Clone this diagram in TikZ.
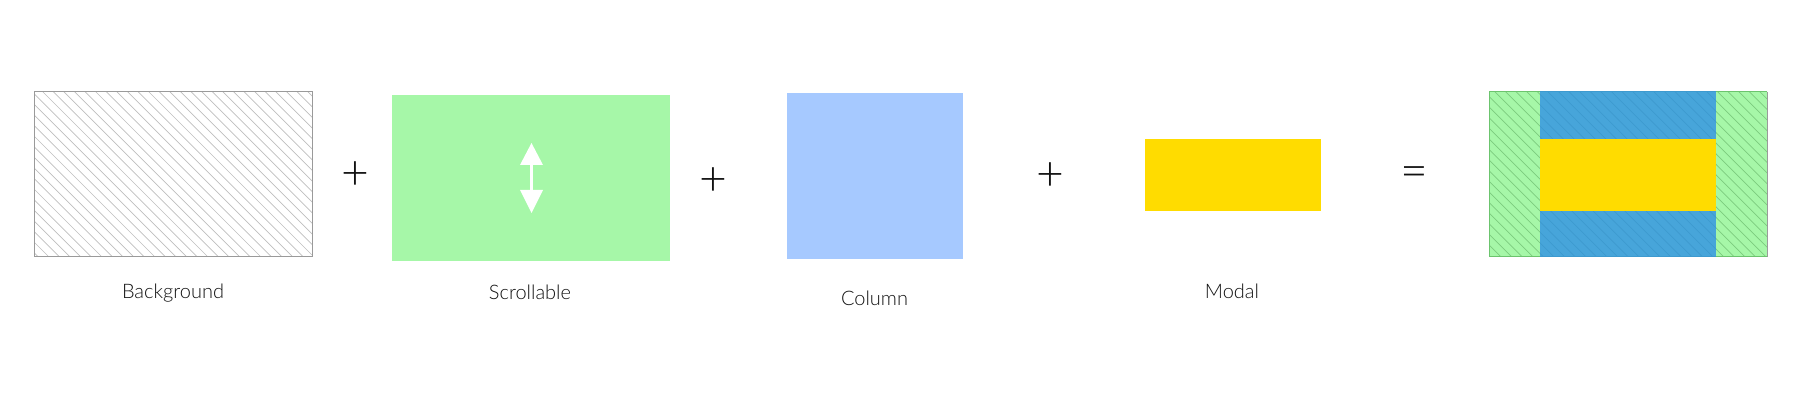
\documentclass[tikz,border=0pt]{standalone}
\usepackage{fontspec}
\setmainfont{Lato}[UprightFont=* Light]
\definecolor{bgborder}{HTML}{9A9A9A}
\definecolor{bghatch}{HTML}{BEBEBE}
\definecolor{scrollgreen}{HTML}{A6F7A8}
\definecolor{colblue}{HTML}{A6C9FF}
\definecolor{modalyellow}{HTML}{FFDC00}
\definecolor{finblue}{HTML}{47A5DA}
\definecolor{finbluehatch}{HTML}{3E9ACF}
\definecolor{fingreenhatch}{HTML}{7CCB7E}
\definecolor{fingreenborder}{HTML}{6CC46E}
\definecolor{labeltext}{HTML}{111111}
\tikzset{
  box/.style={rectangle, inner sep=0pt, outer sep=0pt, draw=none},
  lbl/.style={anchor=base, inner sep=0pt, text=labeltext, font=\fontsize{20}{24}\selectfont},
  op/.style={inner sep=0pt, text=labeltext, font=\fontsize{48}{54}\selectfont},
}
\newcommand{\myhatch}[3]{% rect corners, color
  \begin{scope}
    \clip (#1) rectangle (#2);
    \foreach \c in {-420,-409.4,...,1802} {
      \draw[#3, line width=0.7pt] (\c,0) -- ++(420,420);
    }
  \end{scope}}
\begin{document}
\begin{tikzpicture}[x=1pt,y=-1pt]
\useasboundingbox (0,0) rectangle (1802,403);
% Background
\node[box, minimum width=278, minimum height=165, anchor=north west] (bg) at (34,92) {};
\myhatch{34,92}{312,257}{bghatch}
\draw[bgborder, line width=1pt] (bg.north west) rectangle (bg.south east);
\node[lbl] (bglbl) at (173,298.3) {Background};
% plus 1
\node[op] (p1) at (355,176) {+};
% Scrollable
\node[box, fill=scrollgreen, minimum width=278, minimum height=166, anchor=north west] (scr) at (392,95) {};
\fill[white] (531.5,143) -- (543,165) -- (520,165) -- cycle;
\fill[white] (529.8,164) rectangle (533.2,191);
\fill[white] (520,190) -- (543,190) -- (531.5,213) -- cycle;
\node[lbl] (scrlbl) at (530,299.3) {Scrollable};
% plus 2
\node[op] (p2) at (713,182) {+};
% Column
\node[box, fill=colblue, minimum width=176, minimum height=166, anchor=north west] (col) at (787,93) {};
\node[lbl] (collbl) at (874.5,305.7) {Column};
% plus 3
\node[op] (p3) at (1050,177) {+};
% Modal
\node[box, fill=modalyellow, minimum width=176, minimum height=72, anchor=north west] (mod) at (1145,139) {};
\node[lbl] (modlbl) at (1232,298.3) {Modal};
% equals
\node[op] (eq) at (1414,177) {=};
% Final composite
\node[box, fill=scrollgreen, minimum width=278, minimum height=165, anchor=north west] (fin) at (1489,92) {};
\myhatch{1489,92}{1767,257}{fingreenhatch}
\node[box, fill=finblue, minimum width=176, minimum height=165, anchor=north west] (fincol) at (1540,92) {};
\myhatch{1540,92}{1716,257}{finbluehatch}
\node[box, fill=modalyellow, minimum width=176, minimum height=72, anchor=north west] (finmod) at (1540,139) {};
\draw[fingreenborder, line width=1pt] (fin.north east) -- (fin.north west) -- (fin.south west) -- (fin.south east);
\draw[bgborder, line width=1pt] (fin.north east) -- (fin.south east);
\draw[finbluehatch, line width=1pt] (fincol.north west) -- (fincol.north east);
\draw[finbluehatch, line width=1pt] (fincol.south west) -- (fincol.south east);
\end{tikzpicture}
\end{document}
